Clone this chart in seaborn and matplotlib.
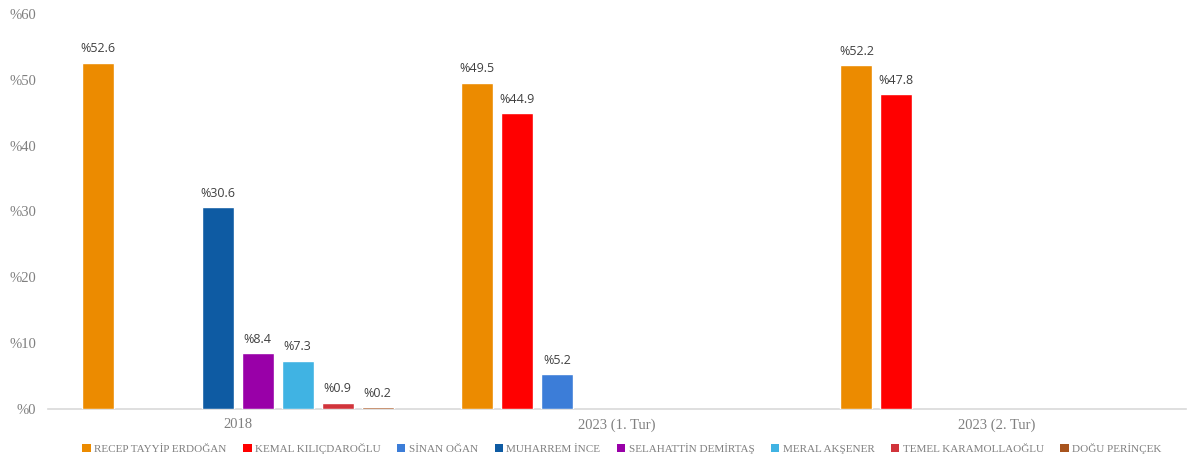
import numpy as np
import pandas as pd
import matplotlib
matplotlib.use("Agg")
import matplotlib.pyplot as plt
import seaborn as sns
from matplotlib.patches import Patch

elections = ["2018", "2023 (1. Tur)", "2023 (2. Tur)"]
candidates = ["RECEP TAYYİP ERDOĞAN", "KEMAL KILIÇDAROĞLU", "SİNAN OĞAN", "MUHARREM İNCE",
              "SELAHATTİN DEMİRTAŞ", "MERAL AKŞENER", "TEMEL KARAMOLLAOĞLU", "DOĞU PERİNÇEK"]
colors = ["#EC8B00", "#FF0000", "#3C7DD8", "#0E5BA3", "#9900A8", "#40B3E3", "#D1343B", "#A8541E"]

# values per candidate for each election (None = did not run)
erdogan = [52.6, 49.5, 52.2]
kilicdaroglu = [None, 44.9, 47.8]
ogan = [None, 5.2, None]
ince = [30.6, None, None]
demirtas = [8.4, None, None]
aksener = [7.3, None, None]
karamollaoglu = [0.9, None, None]
perincek = [0.2, None, None]

series = [erdogan, kilicdaroglu, ogan, ince, demirtas, aksener, karamollaoglu, perincek]
rows = []
for cand, vals in zip(candidates, series):
    for el, v in zip(elections, vals):
        if v is not None:
            rows.append({"Seçim": el, "Aday": cand, "Oy": v})
df = pd.DataFrame(rows)

sns.set_theme(style="white")
plt.rcParams["font.family"] = ["DejaVu Sans"]

fig = plt.figure(figsize=(11.87, 4.59), dpi=100)
ax = fig.add_axes([48/1187, 1 - 408.7/459, (1186-48)/1187, (408.7-14)/459])

sns.barplot(data=df, x="Seçim", y="Oy", hue="Aday", order=elections, hue_order=candidates,
            palette=colors, width=0.843, gap=0.2, ax=ax, legend=False, saturation=1,
            errorbar=None, zorder=3)

for cont in ax.containers:
    for bar in cont:
        h = bar.get_height()
        if np.isnan(h):
            continue
        ax.annotate(f"%{h:.1f}", (bar.get_x() + bar.get_width()/2, h),
                    xytext=(0, 5.5), textcoords="offset points", ha="center", va="bottom",
                    fontsize=9, color="#404040", family="Open Sans")

ax.set_xlim(-0.5, 2.5)
ax.set_ylim(0, 60)
ax.set_yticks(range(0, 61, 10))
ax.set_yticklabels([f"%{v}" for v in range(0, 61, 10)])
ax.set_xlabel("")
ax.set_ylabel("")
for s in ["left", "right", "top"]:
    ax.spines[s].set_visible(False)
ax.spines["bottom"].set_color("#D9D9D9")
ax.spines["bottom"].set_linewidth(1.2)
ax.spines["bottom"].set_zorder(2)
ax.tick_params(axis="both", length=0, colors="#7F7F7F", labelsize=10.5)
ax.tick_params(axis="y", pad=8.5)
ax.tick_params(axis="x", pad=7)
for lab in ax.get_xticklabels() + ax.get_yticklabels():
    lab.set_family("Liberation Serif")
    lab.set_color("#7F7F7F")

handles = [Patch(facecolor=c, edgecolor="none", label=n) for c, n in zip(colors, candidates)]
leg = fig.legend(handles=handles, loc="center", bbox_to_anchor=(0.524, 1 - 448/459),
                 ncol=8, frameon=False, handlelength=0.75, handleheight=0.75, handletextpad=0.3,
                 columnspacing=1.5, prop={"family": "Liberation Serif", "size": 8})
for t in leg.get_texts():
    t.set_color("#7F7F7F")

fig.savefig("out.png", dpi=100)
